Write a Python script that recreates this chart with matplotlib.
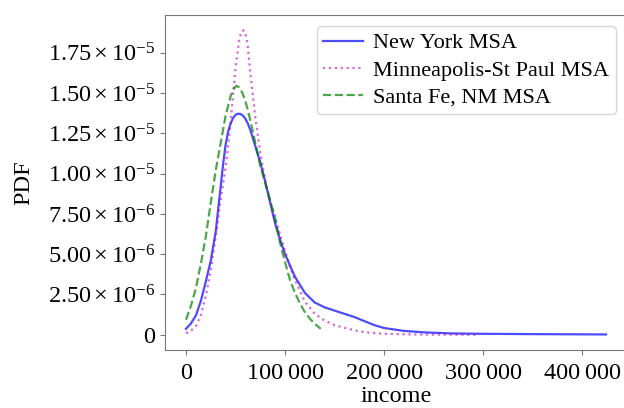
import numpy as np
import matplotlib
import matplotlib.pyplot as plt
from matplotlib.ticker import FuncFormatter, MultipleLocator

matplotlib.use('Agg')

# Valores (renda em dólares, PDF em unidades de 1e-6)
ny_income = [0, 5000, 10000, 15000, 20000, 25000, 30000, 32500, 35000, 37500,
             40000, 42500, 45000, 47500, 50000, 52500, 55000, 57500, 60000,
             62500, 65000, 70000, 75000, 80000, 85000, 90000, 95000,
             100000, 110000, 120000, 130000, 140000, 150000, 160000, 170000,
             180000, 190000, 200000, 220000, 240000, 270000, 300000, 350000,
             424000]
ny_pdf = [0.37, 0.7, 1.2, 2.1, 3.3, 4.6, 6.4, 7.8, 9.2, 10.6,
          11.8, 12.6, 13.1, 13.45, 13.65, 13.72, 13.7, 13.6, 13.4,
          13.1, 12.7, 11.7, 10.7, 9.5, 8.2, 6.9, 5.9,
          5.0, 3.6, 2.6, 2.0, 1.7, 1.5, 1.3, 1.1,
          0.85, 0.6, 0.42, 0.24, 0.15, 0.08, 0.06, 0.04,
          0.02]

msp_income = [0, 5000, 10000, 15000, 20000, 25000, 30000, 35000, 40000, 45000,
              50000, 54000, 56000, 58000, 60000, 62000, 65000, 70000, 75000,
              80000, 85000, 90000, 95000, 100000, 105000, 110000, 120000,
              130000, 140000, 150000, 160000, 170000, 180000, 200000, 230000,
              260000, 296000]
msp_pdf = [0.1, 0.25, 0.55, 1.2, 2.4, 4.0, 6.1, 8.4, 10.4, 13.1,
           16.6, 18.4, 18.8, 18.9, 18.7, 18.1, 16.2, 13.5, 11.3,
           9.5, 8.3, 7.3, 6.2, 5.2, 4.2, 3.4, 2.05,
           1.3, 0.88, 0.6, 0.43, 0.28, 0.16, 0.06, 0.02,
           0.01, 0.0]

sf_income = [0, 5000, 10000, 15000, 20000, 25000, 30000, 35000, 40000, 45000,
             48000, 51000, 54000, 57000, 60000, 65000, 70000, 75000, 80000,
             85000, 90000, 95000, 100000, 105000, 110000, 115000, 120000,
             125000, 130000, 136000]
sf_pdf = [0.93, 1.8, 2.9, 4.4, 6.1, 8.2, 10.2, 11.9, 13.6, 14.8,
          15.25, 15.45, 15.35, 15.0, 14.5, 13.3, 11.9, 10.5, 9.4,
          8.3, 7.2, 5.7, 4.5, 3.4, 2.6, 1.95, 1.4,
          1.0, 0.68, 0.37]

series = [
    ("New York MSA", ny_income, ny_pdf, dict(color='blue', ls='-', alpha=0.7)),
    ("Minneapolis-St Paul MSA", msp_income, msp_pdf, dict(color='m', ls=':', alpha=0.6)),
    ("Santa Fe, NM MSA", sf_income, sf_pdf, dict(color='green', ls='--', alpha=0.7)),
]

plt.rcParams['font.family'] = ['Liberation Serif', 'DejaVu Serif']
plt.rcParams['mathtext.fontset'] = 'custom'
plt.rcParams['mathtext.rm'] = 'Liberation Serif'
plt.rcParams['mathtext.it'] = 'Liberation Serif:italic'
plt.rcParams['mathtext.bf'] = 'Liberation Serif:bold'
plt.rcParams['font.size'] = 17.5


def fmt_y(v, pos):
    if abs(v) < 1e-12:
        return '0'
    e = int(np.floor(np.log10(abs(v))))
    m = v / 10 ** e
    return r'$%.2f\times10^{%d}$' % (m, e)


def fmt_x(v, pos):
    return f"{int(round(v)):,}".replace(',', '\u2009')


fig = plt.figure(figsize=(6.24, 4.08), dpi=100)
ax = fig.add_axes([165 / 624, 58 / 408, 462 / 624, 335 / 408])

for nome, xs, ys, estilo in series:
    ax.plot(xs, np.array(ys) * 1e-6, lw=1.6, label=nome, **estilo)

ax.yaxis.set_major_locator(MultipleLocator(2.5e-6))
ax.yaxis.set_major_formatter(FuncFormatter(fmt_y))
ax.xaxis.set_major_locator(MultipleLocator(100000))
ax.xaxis.set_major_formatter(FuncFormatter(fmt_x))

ax.spines['right'].set_visible(False)
for s in ax.spines.values():
    s.set_color('#777777')
ax.tick_params(colors='#777777', labelcolor='black', length=3.5)
ax.tick_params(axis='x', pad=6)

ax.set_xlabel('income', labelpad=1)
ax.set_ylabel('PDF', labelpad=10)
ax.legend(loc='upper right', fontsize=16, handlelength=1.8,
          borderpad=0.3, labelspacing=0.3, handletextpad=0.45)

fig.savefig('out.png', dpi=100)
